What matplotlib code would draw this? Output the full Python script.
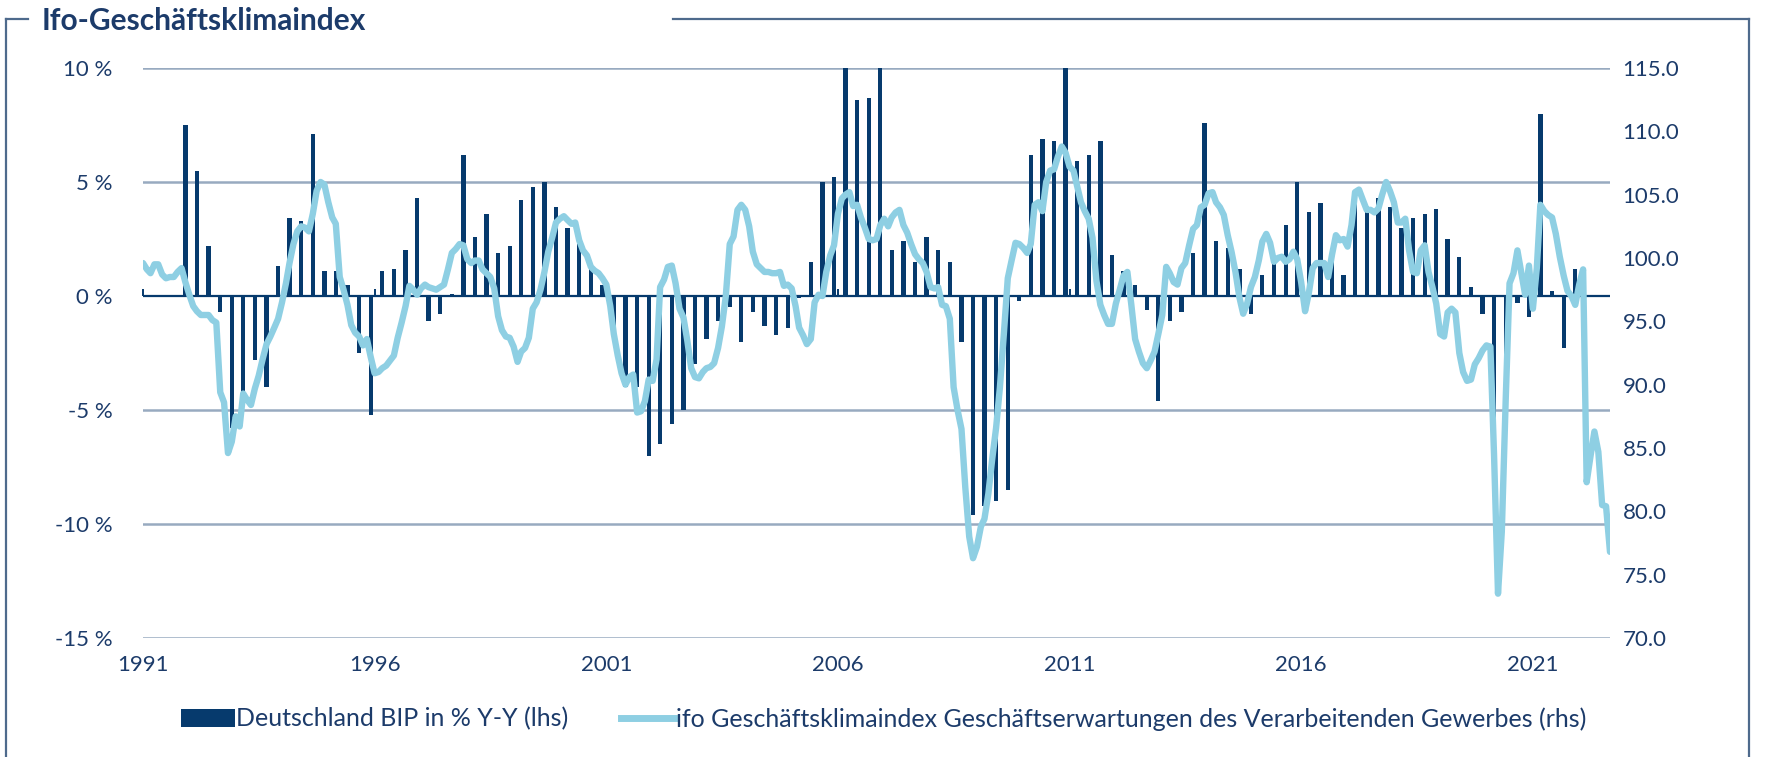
import numpy as np
import pandas as pd
import matplotlib
matplotlib.use("Agg")
import matplotlib.pyplot as plt
import matplotlib.dates as mdates
from matplotlib.lines import Line2D
from matplotlib.patches import Patch

# ---------------- data ----------------
gdp_start = "1991-12-01"   # quarterly, Deutschland BIP % Y-Y
gdp_yoy = [
    7.5, 5.5, 2.2, -0.7, -5.8, -4.6, -2.8, -4.0, 1.3, 3.4, 3.3, 7.1,
    1.1, 1.1, 0.5, -2.5, -5.2, 1.1, 1.2, 2.0, 4.3, -1.1, -0.8, 0.1,
    6.2, 2.6, 3.6, 1.9, 2.2, 4.2, 4.8, 5.0, 3.9, 3.0, 2.3, 1.4,
    0.5, -1.5, -4.0, -4.0, -7.0, -6.5, -5.6, -5.0, -3.0, -1.9, -1.1, -0.5,
    -2.0, -0.7, -1.3, -1.7, -1.4, -0.1, 1.5, 5.0, 5.2, 10.8, 8.6, 8.7,
    10.8, 2.0, 2.4, 1.5, 2.6, 2.0, 1.5, -2.0, -9.6, -9.2, -9.0, -8.5,
    -0.2, 6.2, 6.9, 6.8, 10.8, 5.9, 6.2, 6.8, 1.8, 1.1, 0.5, -0.6,
    -4.6, -1.1, -0.7, 1.9, 7.6, 2.4, 2.1, 1.2, -0.8, 0.9, 1.7, 3.1,
    5.0, 3.7, 4.1, 2.0, 0.9, 4.3, 3.8, 4.3, 3.9, 3.0, 3.4, 3.6,
    3.8, 2.5, 1.7, 0.4, -0.8, -7.6, -3.3, -0.3, -0.9, 8.0, 0.2, -2.3,
    1.2,
]

ifo_start = "1991-01-01"   # monthly, ifo Geschäftserwartungen Verarbeitendes Gewerbe
ifo = [
    99.6, 99.1, 98.8, 99.5, 99.5, 98.7, 98.4, 98.5, 98.5, 98.9, 99.2, 98.1,
    97.1, 96.2, 95.8, 95.5, 95.5, 95.5, 95.1, 94.9, 89.4, 88.6, 84.6, 85.5,
    87.5, 86.7, 89.3, 88.8, 88.4, 89.7, 90.7, 92.0, 93.2, 93.8, 94.5, 95.2,
    96.5, 98.0, 99.6, 101.1, 102.1, 102.5, 102.4, 102.1, 103.5, 105.3, 106.0, 105.8,
    104.4, 103.2, 102.7, 98.5, 97.5, 96.3, 94.7, 94.1, 93.8, 93.1, 93.6, 92.2,
    90.9, 91.0, 91.3, 91.5, 91.9, 92.3, 93.7, 94.9, 96.2, 97.8, 97.5, 97.1,
    97.6, 97.9, 97.7, 97.6, 97.5, 97.7, 97.9, 99.1, 100.4, 100.7, 101.1, 101.0,
    99.9, 99.6, 99.8, 99.8, 99.1, 98.8, 98.5, 97.6, 95.4, 94.3, 93.8, 93.7,
    93.0, 91.8, 92.6, 92.9, 93.7, 96.0, 96.5, 97.5, 98.9, 100.5, 101.6, 102.8,
    103.1, 103.3, 103.0, 102.7, 102.8, 101.4, 100.6, 100.2, 99.3, 99.0, 98.8, 98.4,
    97.9, 96.2, 94.0, 92.3, 90.9, 90.0, 90.6, 90.8, 87.8, 87.9, 88.7, 90.4,
    90.3, 92.0, 97.7, 98.3, 99.3, 99.4, 98.0, 96.0, 95.3, 93.5, 91.3, 90.6,
    90.5, 91.0, 91.3, 91.4, 91.7, 92.9, 94.6, 97.0, 101.1, 101.7, 103.8, 104.2,
    103.8, 102.5, 100.5, 99.5, 99.2, 98.9, 98.9, 98.8, 98.8, 98.9, 97.8, 97.9,
    97.6, 96.2, 94.5, 93.9, 93.2, 93.6, 96.5, 97.1, 97.0, 98.9, 100.2, 101.0,
    103.5, 104.7, 105.0, 105.2, 104.1, 104.2, 103.2, 102.4, 101.5, 101.4, 101.5, 102.6,
    103.1, 102.5, 103.2, 103.6, 103.8, 102.6, 102.0, 101.1, 100.3, 99.9, 99.6, 98.9,
    97.7, 97.6, 97.7, 96.3, 96.2, 95.2, 89.8, 88.0, 86.5, 81.9, 78.0, 76.3,
    77.2, 78.8, 79.4, 81.4, 84.1, 86.6, 89.8, 94.0, 98.4, 99.8, 101.2, 101.1,
    100.8, 100.4, 101.1, 104.2, 104.4, 103.7, 106.0, 106.9, 107.0, 108.0, 108.8, 108.3,
    107.2, 106.9, 105.7, 104.4, 103.7, 103.1, 101.6, 98.2, 96.3, 95.5, 94.8, 94.8,
    96.4, 97.5, 98.6, 98.9, 96.4, 93.6, 92.6, 91.7, 91.3, 91.9, 92.6, 94.0,
    95.5, 99.3, 98.8, 98.1, 97.9, 99.2, 99.6, 101.0, 102.3, 102.6, 104.0, 104.2,
    105.1, 105.2, 104.4, 104.0, 103.4, 101.8, 100.5, 98.9, 96.9, 95.6, 96.4, 97.7,
    98.5, 99.8, 101.3, 101.9, 101.2, 99.7, 100.0, 100.1, 99.7, 99.9, 100.5, 99.9,
    98.1, 95.8, 97.2, 99.2, 99.6, 99.6, 99.6, 98.5, 100.3, 101.8, 101.4, 101.5,
    100.9, 102.6, 105.2, 105.4, 104.6, 103.8, 103.8, 103.6, 103.9, 105.0, 106.0, 105.3,
    104.4, 102.8, 102.8, 103.1, 100.6, 98.9, 98.8, 100.6, 101.0, 98.9, 97.7, 96.4,
    94.0, 93.8, 95.7, 96.0, 95.7, 92.5, 91.0, 90.3, 90.4, 91.6, 92.1, 92.7,
    93.1, 93.0, 84.4, 73.5, 78.4, 88.9, 98.0, 98.8, 100.6, 98.9, 97.1, 99.4,
    96.0, 99.2, 104.2, 103.7, 103.4, 103.2, 101.9, 100.1, 98.6, 97.4, 97.0, 96.3,
    97.9, 99.1, 82.3, 84.4, 86.3, 84.7, 80.5, 80.4, 76.8,
]

left_ticks = [-15, -10, -5, 0, 5, 10]
right_ticks = [70, 75, 80, 85, 90, 95, 100, 105, 110, 115]
year_ticks = [1991, 1996, 2001, 2006, 2011, 2016, 2021]

title = "Ifo-Geschäftsklimaindex"
label_gdp = "Deutschland BIP in % Y-Y (lhs)"
label_ifo = "ifo Geschäftsklimaindex Geschäftserwartungen des Verarbeitenden Gewerbes (rhs)"

# ---------------- style ----------------
NAVY = "#063a6d"
TEXT = "#1c3b6a"
LIGHT = "#8ecfe3"
GRID = "#98aac0"
FRAME = "#4e6a8c"
FONT = ["Lato", "DejaVu Sans"]
plt.rcParams["font.family"] = FONT

W, H = 1767, 757
fig = plt.figure(figsize=(W / 100, H / 100), dpi=100)
ax = fig.add_axes([143 / W, 1 - 638 / H, (1610 - 143) / W, (638 - 68) / H])

gdp_dates = pd.date_range(gdp_start, periods=len(gdp_yoy), freq="3MS")
ifo_dates = pd.date_range(ifo_start, periods=len(ifo), freq="MS")

ax.bar(gdp_dates, gdp_yoy, width=34, color=NAVY, zorder=2, label=label_gdp)
ax.set_ylim(left_ticks[0], left_ticks[-1])
ax.set_xlim(ifo_dates[0], ifo_dates[-1])
ax.set_yticks(left_ticks)
ax.set_yticklabels([f"{v} %" for v in left_ticks])
for v in left_ticks:
    if v == 0:
        ax.axhline(v, color=NAVY, lw=1.6, zorder=3)
    else:
        ax.axhline(v, color=GRID, lw=1.8, zorder=1)

ax.set_xticks([pd.Timestamp(f"{y}-01-01") for y in year_ticks])
ax.xaxis.set_major_formatter(mdates.DateFormatter("%Y"))
ax.tick_params(axis="x", length=0, pad=12, labelsize=16, colors=TEXT)
ax.tick_params(axis="y", length=0, pad=22, labelsize=16, colors=TEXT)
for s in ax.spines.values():
    s.set_visible(False)

# small tick marks on the zero line
frac0 = (0 - left_ticks[0]) / (left_ticks[-1] - left_ticks[0])
sec = ax.secondary_xaxis(frac0)
sec.set_xticks([pd.Timestamp(f"{y}-01-01") for y in year_ticks])
sec.tick_params(axis="x", direction="out", length=5, width=1.4, colors=NAVY, labelbottom=False, labeltop=False)
sec.set_xticklabels([])
for s in sec.spines.values():
    s.set_visible(False)

ax2 = ax.twinx()
ax2.plot(ifo_dates, ifo, color=LIGHT, lw=4.6, solid_joinstyle="round", solid_capstyle="round", label=label_ifo)
ax2.set_ylim(right_ticks[0], right_ticks[-1])
ax2.set_yticks(right_ticks)
ax2.set_yticklabels([f"{v:.1f}" for v in right_ticks])
ax2.tick_params(axis="y", length=0, pad=9, labelsize=16, colors=TEXT)
for s in ax2.spines.values():
    s.set_visible(False)
ax2.set_xlim(ifo_dates[0], ifo_dates[-1])

# legend
handles = [Patch(facecolor=NAVY, edgecolor="none"),
           Line2D([0], [0], color=LIGHT, lw=5)]
fig.legend(handles, [label_gdp, label_ifo], loc="center", bbox_to_anchor=(0.5, 1 - 719 / H),
           ncol=2, frameon=False, fontsize=18, labelcolor=TEXT,
           handlelength=2.15, handleheight=0.75, handletextpad=0.05, columnspacing=2.1)

# title and frame
fig.text(42 / W, 1 - 30 / H, title, fontsize=21.5, fontweight="bold", color=TEXT, va="baseline", ha="left")
ytop = 1 - 19 / H
fig.add_artist(Line2D([6 / W, 28 / W], [ytop, ytop], color=FRAME, lw=1.6))
fig.add_artist(Line2D([673 / W, 1749 / W], [ytop, ytop], color=FRAME, lw=1.6))
fig.add_artist(Line2D([6 / W, 6 / W], [ytop, 0], color=FRAME, lw=1.6))
fig.add_artist(Line2D([1749 / W, 1749 / W], [ytop, 0], color=FRAME, lw=1.6))

fig.savefig("out.png", dpi=100)
